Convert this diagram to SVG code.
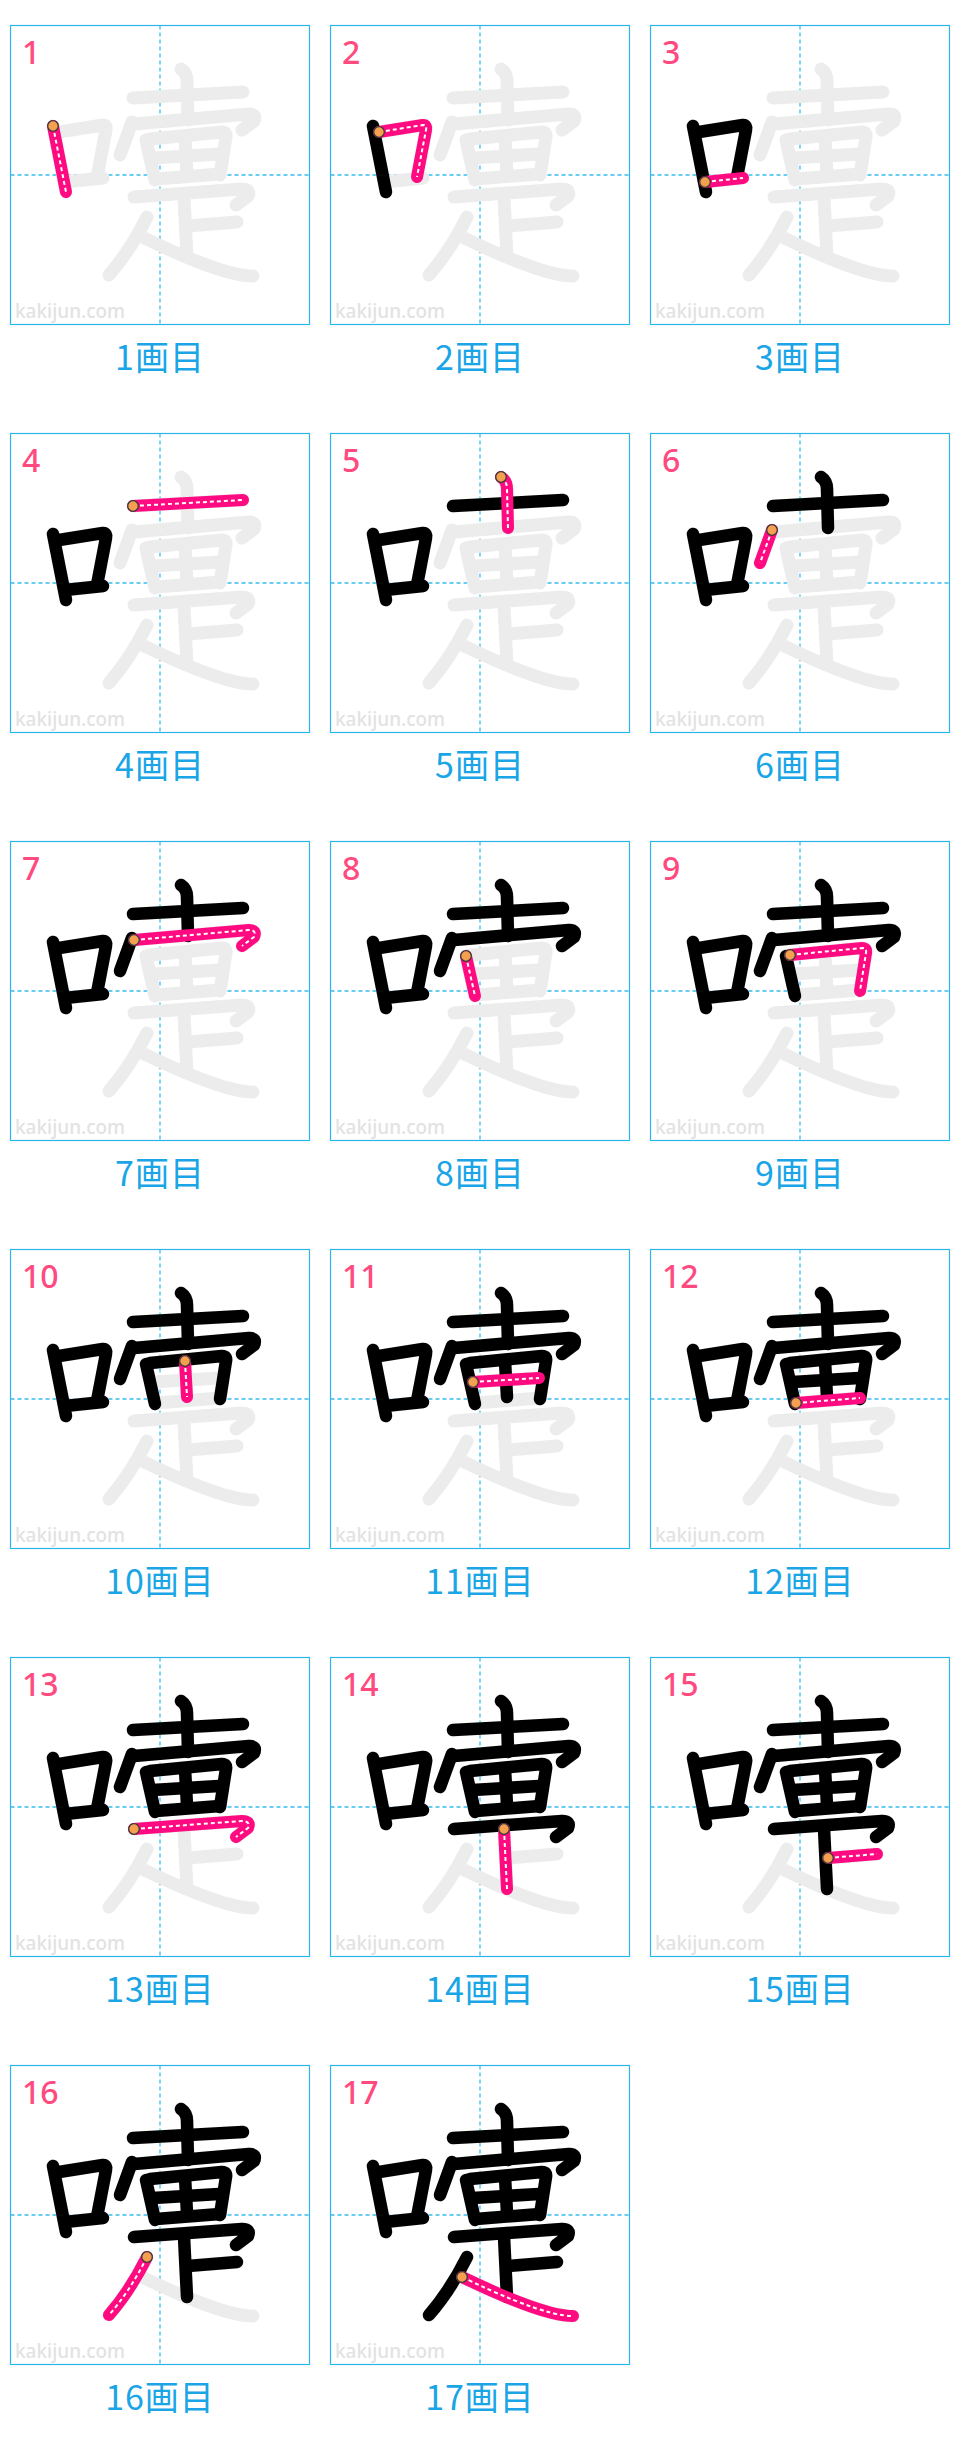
<svg xmlns="http://www.w3.org/2000/svg" xmlns:xlink="http://www.w3.org/1999/xlink" width="960" height="2448" viewBox="0 0 960 2448">
<style>
.frame{fill:#fff;stroke:#2fb3ef;stroke-width:1.2}
.guide{fill:none;stroke:#38bdf0;stroke-width:1.3;stroke-dasharray:4 3}
.ghost{fill:none;stroke:#ececec;stroke-width:13;stroke-linecap:round;stroke-linejoin:round}
.done{fill:none;stroke:#000;stroke-width:12.5;stroke-linecap:round;stroke-linejoin:round}
.cur{fill:none;stroke:#ff0a80;stroke-width:12;stroke-linecap:round;stroke-linejoin:round}
.dash{fill:none;stroke:#fff;stroke-width:2;stroke-dasharray:4 3;stroke-linejoin:round}
.dot{fill:#f5a04f;stroke:#3a3a3a;stroke-width:1.3}
.num{font-family:"Noto Sans",sans-serif;font-size:32px;font-weight:500;fill:#ff4a80}
.cap{font-family:"Noto Sans CJK JP",sans-serif;font-size:34px;letter-spacing:1px;fill:#19a5e6;text-anchor:middle}
.wm{font-family:"Noto Sans",sans-serif;font-size:20px;font-weight:500;fill:#e2e2e2}
</style>
<defs>
<g id="cell">
<rect class="frame" x="0.5" y="0.5" width="299" height="299"/>
<path class="guide" d="M150,0.5V299.5M0.5,150H299.5"/>
<text class="wm" x="5" y="293" textLength="110" lengthAdjust="spacingAndGlyphs">kakijun.com</text>
</g>
<path id="s1" d="M43,101 L56,167"/>
<path id="s2" d="M49,107 L93,100 Q97,100 96,105 L87,152"/>
<path id="s3" d="M55,157 L93,153"/>
<path id="s4" d="M123,73 L233,67"/>
<path id="s5" d="M171,44 Q177,48 177,56 L178,95"/>
<path id="s6" d="M122,97 L110,130"/>
<path id="s7" d="M124,99 L239,89 Q247,89 244,96 L232,105"/>
<path id="s8" d="M136,115 L145,155"/>
<path id="s9" d="M140,114 L212,107 Q217,107 216,112 L210,150"/>
<path id="s10" d="M175,112 L177,148"/>
<path id="s11" d="M143,133 L209,129"/>
<path id="s12" d="M146,154 L210,149"/>
<path id="s13" d="M124,172 L232,164 Q241,164 238,171 L226,180"/>
<path id="s14" d="M174,172 L177,232"/>
<path id="s15" d="M178,201 L227,197"/>
<path id="s16" d="M137,192 Q120,226 99,250"/>
<path id="s17" d="M132,212 Q190,240 222,248 Q235,251 243,251"/>
<g id="d1"><use href="#s1"/></g>
<g id="d2"><use href="#d1"/><use href="#s2"/></g>
<g id="d3"><use href="#d2"/><use href="#s3"/></g>
<g id="d4"><use href="#d3"/><use href="#s4"/></g>
<g id="d5"><use href="#d4"/><use href="#s5"/></g>
<g id="d6"><use href="#d5"/><use href="#s6"/></g>
<g id="d7"><use href="#d6"/><use href="#s7"/></g>
<g id="d8"><use href="#d7"/><use href="#s8"/></g>
<g id="d9"><use href="#d8"/><use href="#s9"/></g>
<g id="d10"><use href="#d9"/><use href="#s10"/></g>
<g id="d11"><use href="#d10"/><use href="#s11"/></g>
<g id="d12"><use href="#d11"/><use href="#s12"/></g>
<g id="d13"><use href="#d12"/><use href="#s13"/></g>
<g id="d14"><use href="#d13"/><use href="#s14"/></g>
<g id="d15"><use href="#d14"/><use href="#s15"/></g>
<g id="d16"><use href="#d15"/><use href="#s16"/></g>
<g id="full"><use href="#d16"/><use href="#s17"/></g>
</defs>
<rect width="960" height="2448" fill="#fff"/>
<g id="connectors"/>

<g id="step-1" transform="translate(10,25)">
<use href="#cell"/><use href="#full" class="ghost"/>
<use href="#s1" class="cur"/><use href="#s1" class="dash"/><circle class="dot" cx="43" cy="101" r="5.3"/>
<text class="num" x="12" y="39">1</text><text class="cap" x="150" y="345">1画目</text>
</g>
<g id="step-2" transform="translate(330,25)">
<use href="#cell"/><use href="#full" class="ghost"/><use href="#d1" class="done"/>
<use href="#s2" class="cur"/><use href="#s2" class="dash"/><circle class="dot" cx="49" cy="107" r="5.3"/>
<text class="num" x="12" y="39">2</text><text class="cap" x="150" y="345">2画目</text>
</g>
<g id="step-3" transform="translate(650,25)">
<use href="#cell"/><use href="#full" class="ghost"/><use href="#d2" class="done"/>
<use href="#s3" class="cur"/><use href="#s3" class="dash"/><circle class="dot" cx="55" cy="157" r="5.3"/>
<text class="num" x="12" y="39">3</text><text class="cap" x="150" y="345">3画目</text>
</g>
<g id="step-4" transform="translate(10,433)">
<use href="#cell"/><use href="#full" class="ghost"/><use href="#d3" class="done"/>
<use href="#s4" class="cur"/><use href="#s4" class="dash"/><circle class="dot" cx="123" cy="73" r="5.3"/>
<text class="num" x="12" y="39">4</text><text class="cap" x="150" y="345">4画目</text>
</g>
<g id="step-5" transform="translate(330,433)">
<use href="#cell"/><use href="#full" class="ghost"/><use href="#d4" class="done"/>
<use href="#s5" class="cur"/><use href="#s5" class="dash"/><circle class="dot" cx="171" cy="44" r="5.3"/>
<text class="num" x="12" y="39">5</text><text class="cap" x="150" y="345">5画目</text>
</g>
<g id="step-6" transform="translate(650,433)">
<use href="#cell"/><use href="#full" class="ghost"/><use href="#d5" class="done"/>
<use href="#s6" class="cur"/><use href="#s6" class="dash"/><circle class="dot" cx="122" cy="97" r="5.3"/>
<text class="num" x="12" y="39">6</text><text class="cap" x="150" y="345">6画目</text>
</g>
<g id="step-7" transform="translate(10,841)">
<use href="#cell"/><use href="#full" class="ghost"/><use href="#d6" class="done"/>
<use href="#s7" class="cur"/><use href="#s7" class="dash"/><circle class="dot" cx="124" cy="99" r="5.3"/>
<text class="num" x="12" y="39">7</text><text class="cap" x="150" y="345">7画目</text>
</g>
<g id="step-8" transform="translate(330,841)">
<use href="#cell"/><use href="#full" class="ghost"/><use href="#d7" class="done"/>
<use href="#s8" class="cur"/><use href="#s8" class="dash"/><circle class="dot" cx="136" cy="115" r="5.3"/>
<text class="num" x="12" y="39">8</text><text class="cap" x="150" y="345">8画目</text>
</g>
<g id="step-9" transform="translate(650,841)">
<use href="#cell"/><use href="#full" class="ghost"/><use href="#d8" class="done"/>
<use href="#s9" class="cur"/><use href="#s9" class="dash"/><circle class="dot" cx="140" cy="114" r="5.3"/>
<text class="num" x="12" y="39">9</text><text class="cap" x="150" y="345">9画目</text>
</g>
<g id="step-10" transform="translate(10,1249)">
<use href="#cell"/><use href="#full" class="ghost"/><use href="#d9" class="done"/>
<use href="#s10" class="cur"/><use href="#s10" class="dash"/><circle class="dot" cx="175" cy="112" r="5.3"/>
<text class="num" x="12" y="39">10</text><text class="cap" x="150" y="345">10画目</text>
</g>
<g id="step-11" transform="translate(330,1249)">
<use href="#cell"/><use href="#full" class="ghost"/><use href="#d10" class="done"/>
<use href="#s11" class="cur"/><use href="#s11" class="dash"/><circle class="dot" cx="143" cy="133" r="5.3"/>
<text class="num" x="12" y="39">11</text><text class="cap" x="150" y="345">11画目</text>
</g>
<g id="step-12" transform="translate(650,1249)">
<use href="#cell"/><use href="#full" class="ghost"/><use href="#d11" class="done"/>
<use href="#s12" class="cur"/><use href="#s12" class="dash"/><circle class="dot" cx="146" cy="154" r="5.3"/>
<text class="num" x="12" y="39">12</text><text class="cap" x="150" y="345">12画目</text>
</g>
<g id="step-13" transform="translate(10,1657)">
<use href="#cell"/><use href="#full" class="ghost"/><use href="#d12" class="done"/>
<use href="#s13" class="cur"/><use href="#s13" class="dash"/><circle class="dot" cx="124" cy="172" r="5.3"/>
<text class="num" x="12" y="39">13</text><text class="cap" x="150" y="345">13画目</text>
</g>
<g id="step-14" transform="translate(330,1657)">
<use href="#cell"/><use href="#full" class="ghost"/><use href="#d13" class="done"/>
<use href="#s14" class="cur"/><use href="#s14" class="dash"/><circle class="dot" cx="174" cy="172" r="5.3"/>
<text class="num" x="12" y="39">14</text><text class="cap" x="150" y="345">14画目</text>
</g>
<g id="step-15" transform="translate(650,1657)">
<use href="#cell"/><use href="#full" class="ghost"/><use href="#d14" class="done"/>
<use href="#s15" class="cur"/><use href="#s15" class="dash"/><circle class="dot" cx="178" cy="201" r="5.3"/>
<text class="num" x="12" y="39">15</text><text class="cap" x="150" y="345">15画目</text>
</g>
<g id="step-16" transform="translate(10,2065)">
<use href="#cell"/><use href="#full" class="ghost"/><use href="#d15" class="done"/>
<use href="#s16" class="cur"/><use href="#s16" class="dash"/><circle class="dot" cx="137" cy="192" r="5.3"/>
<text class="num" x="12" y="39">16</text><text class="cap" x="150" y="345">16画目</text>
</g>
<g id="step-17" transform="translate(330,2065)">
<use href="#cell"/><use href="#full" class="ghost"/><use href="#d16" class="done"/>
<use href="#s17" class="cur"/><use href="#s17" class="dash"/><circle class="dot" cx="132" cy="212" r="5.3"/>
<text class="num" x="12" y="39">17</text><text class="cap" x="150" y="345">17画目</text>
</g>
</svg>
